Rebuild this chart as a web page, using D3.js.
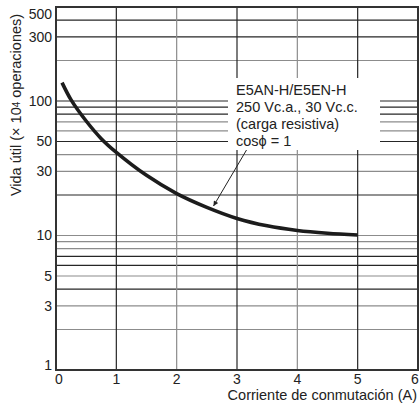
<!DOCTYPE html>
<html>
<head>
<meta charset="utf-8">
<script src="https://cdn.jsdelivr.net/npm/d3@7"></script>
<style>
  html, body { margin: 0; padding: 0; background: #fff; }
  svg { display: block; }
  text { font-family: "Liberation Sans", Arial, Helvetica, sans-serif; fill: #222; }
</style>
</head>
<body>
<svg id="chart" width="420" height="416"></svg>
<script>
// ---- data ----
const currentA = [0.1, 0.25, 0.5, 0.75, 1, 1.5, 2, 2.5, 3, 3.5, 4, 4.5, 5];
const lifeE4   = [137, 102, 71, 52.5, 41.5, 28, 20.5, 16.2, 13.4, 11.8, 10.9, 10.4, 10.1];
const xTicks = [0, 1, 2, 3, 4, 5, 6];
const yTickLabels = [1, 3, 5, 10, 30, 50, 100, 300, 500];
const hGridValues = [2, 3, 4, 5, 6, 7, 8, 9, 10, 20, 30, 40, 50, 60, 70, 80, 90, 100, 200, 300, 400];
const hGridDark = [4, 6, 7, 20, 50, 80, 90, 100, 300, 400];
const vGridValues = [1, 2, 3, 4, 5];
const vGridDark = [1, 3, 5];
const legendLines = ["E5AN-H/E5EN-H", "250 Vc.a., 30 Vc.c.", "(carga resistiva)", "cos\u03d5 = 1"];
const xTitle = "Corriente de conmutación (A)";

// ---- layout ----
const svg = d3.select("#chart");
const L = 56, R = 418, T = 7, B = 370;
const x = d3.scaleLinear().domain([0, 6]).range([L, R]);
const y = d3.scaleLog().domain([1, 500]).range([B, T]);

const dark = "#262626", gray = "#8c8c8c";

// grid
const g = svg.append("g");
g.selectAll("line.h").data(hGridValues).join("line")
  .attr("x1", L).attr("x2", R)
  .attr("y1", d => y(d)).attr("y2", d => y(d))
  .attr("stroke", d => hGridDark.includes(d) ? dark : gray)
  .attr("stroke-width", 1.2);
g.selectAll("line.v").data(vGridValues).join("line")
  .attr("y1", T).attr("y2", B)
  .attr("x1", d => x(d)).attr("x2", d => x(d))
  .attr("stroke", d => vGridDark.includes(d) ? dark : gray)
  .attr("stroke-width", 1.2);

// legend white box (covers grid)
svg.append("rect").attr("x", 228).attr("y", 78).attr("width", 152).attr("height", 72).attr("fill", "#fff");

// frame
svg.append("rect").attr("x", L).attr("y", T).attr("width", R - L).attr("height", B - T)
  .attr("fill", "none").attr("stroke", "#333").attr("stroke-width", 2);

// curve
const line = d3.line().x((d, i) => x(currentA[i])).y(d => y(d)).curve(d3.curveCatmullRom.alpha(0.5));
svg.append("path").datum(lifeE4).attr("d", line)
  .attr("fill", "none").attr("stroke", "#1c1c1c").attr("stroke-width", 3.6).attr("stroke-linecap", "butt");

// y tick labels
svg.append("g").selectAll("text").data(yTickLabels).join("text")
  .attr("x", 52).attr("text-anchor", "end")
  .attr("y", d => y(d) + (d === 500 ? 7 : d === 1 ? -5 : 0))
  .attr("dy", "0.35em")
  .style("font-size", "14px")
  .text(d => d);

// x tick labels
svg.append("g").selectAll("text").data(xTicks).join("text")
  .attr("x", d => x(d) + (d === 0 ? 3 : d === 6 ? -3 : 0))
  .attr("y", 384).attr("text-anchor", "middle")
  .style("font-size", "14px")
  .text(d => d);

// x title
svg.append("text").attr("x", 417).attr("y", 400).attr("text-anchor", "end")
  .style("font-size", "14.5px").text(xTitle);

// y title
const yt = svg.append("text")
  .attr("transform", "translate(21,105) rotate(-90)")
  .attr("text-anchor", "middle")
  .style("font-size", "14.5px");
yt.append("tspan").text("Vida útil (× 10");
yt.append("tspan").style("font-size", "10px").attr("dy", "-1").text("4");
yt.append("tspan").attr("dy", "1").text(" operaciones)");

// legend text
svg.append("g").selectAll("text").data(legendLines).join("text")
  .attr("x", 236).attr("y", (d, i) => 94.5 + i * 17.3)
  .style("font-size", "14.5px")
  .text(d => d);

// arrow
const defs = svg.append("defs");
defs.append("marker").attr("id", "ah").attr("viewBox", "0 0 10 10")
  .attr("refX", 10).attr("refY", 5).attr("markerWidth", 9).attr("markerHeight", 5)
  .attr("markerUnits", "userSpaceOnUse").attr("orient", "auto")
  .append("path").attr("d", "M0,0 L10,5 L0,10 Z").attr("fill", "#222");
svg.append("line").attr("x1", 246.5).attr("y1", 150).attr("x2", 213.5).attr("y2", 206)
  .attr("stroke", "#222").attr("stroke-width", 1).attr("marker-end", "url(#ah)");
</script>
</body>
</html>
